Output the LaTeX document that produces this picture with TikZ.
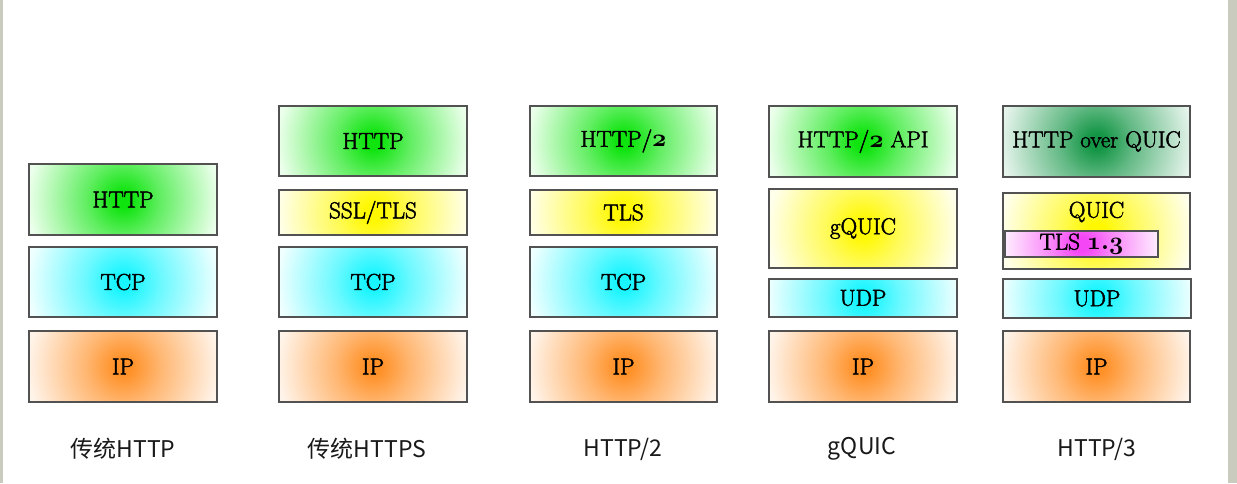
\documentclass[tikz,border=0pt]{standalone}
\usepackage{fontspec}
\newfontfamily\cjk{Noto Sans CJK SC}
\newfontfamily\boxfont{Latin Modern Roman}[FakeBold=2.2]
\newcommand\osn[1]{{\boldmath$\mathnormal{#1}$}}
\definecolor{sidegrey}{RGB}{201,203,190}
\definecolor{gIn}{RGB}{15,228,15}\definecolor{gOut}{RGB}{236,255,236}
\definecolor{dgIn}{RGB}{20,150,70}\definecolor{dgOut}{RGB}{230,244,236}
\definecolor{yIn}{RGB}{255,248,0}\definecolor{yOut}{RGB}{255,255,236}
\definecolor{cIn}{RGB}{25,245,255}\definecolor{cOut}{RGB}{240,255,255}
\definecolor{oIn}{RGB}{255,145,40}\definecolor{oOut}{RGB}{255,244,234}
\definecolor{mIn}{RGB}{245,70,245}\definecolor{mOut}{RGB}{255,242,255}
\colorlet{shIn}{white}\colorlet{shOut}{white}\colorlet{shMid}{white}
\pgfdeclareradialshading[shIn,shMid,shOut]{soft}{\pgfpointorigin}{%
  color(0bp)=(shIn); color(2bp)=(shIn); color(9bp)=(shMid);
  color(23bp)=(shOut); color(50bp)=(shOut)}
\tikzset{
  shr/.initial=104pt,
  layer/.style={draw=black!68, line width=1.3pt, rectangle, inner sep=0pt,
    font=\boxfont\fontsize{23}{25}\selectfont, text=black},
  shd/.style 2 args={path picture={%
    \shade[/utils/exec={\colorlet{shIn}{#1}\colorlet{shOut}{#2}\colorlet{shMid}{#1!62!#2}},
      shading=soft] (path picture bounding box.center)
      circle[radius=\pgfkeysvalueof{/tikz/shr}];}},
  green/.style={shd={gIn}{gOut}},
  dgreen/.style={shd={dgIn}{dgOut}},
  yellowl/.style={shd={yIn}{yOut}},
  cyanl/.style={shd={cIn}{cOut}},
  orangel/.style={shd={oIn}{oOut}},
  magental/.style={shd={mIn}{mOut}},
  caption/.style={font=\cjk\fontsize{23}{26}\selectfont, text=black!90}
}
\begin{document}
\begin{tikzpicture}[x=1pt,y=-1pt]
\useasboundingbox (0,0) rectangle (1237,483);
\fill[white] (0,0) rectangle (1237,483);
\fill[sidegrey] (0,0) rectangle (2.5,483);
\fill[sidegrey] (1228,0) rectangle (1237,483);
% column 1
\node[layer,green,minimum width=188pt,minimum height=71pt] (a1) at (123,199.5) {HTTP};
\node[layer,cyanl,minimum width=188pt,minimum height=70pt] (a2) at (123,282) {TCP};
\node[layer,orangel,minimum width=188pt,minimum height=71pt] (a3) at (123,366.5) {IP};
\node[caption] (ac) at (123,449) {传统HTTP};
% column 2
\node[layer,green,minimum width=188pt,minimum height=70pt] (b1) at (373,141) {HTTP};
\node[layer,yellowl,minimum width=188pt,minimum height=45pt] (b2) at (373,212.5) {SSL/TLS};
\node[layer,cyanl,minimum width=188pt,minimum height=70pt] (b3) at (373,282) {TCP};
\node[layer,orangel,minimum width=188pt,minimum height=71pt] (b4) at (373,366.5) {IP};
\node[caption] (bc) at (367,449) {传统HTTPS};
% column 3
\node[layer,green,minimum width=187pt,minimum height=70pt] (c1) at (623.5,141) {HTTP/\osn{2}};
\node[layer,yellowl,minimum width=187pt,minimum height=45pt] (c2) at (623.5,212.5) {TLS};
\node[layer,cyanl,minimum width=187pt,minimum height=70pt] (c3) at (623.5,282) {TCP};
\node[layer,orangel,minimum width=187pt,minimum height=71pt] (c4) at (623.5,366.5) {IP};
\node[caption] (cc) at (623,449) {HTTP/2};
% column 4
\node[layer,green,minimum width=188pt,minimum height=71pt] (d1) at (863,141.5) {HTTP/\osn{2} API};
\node[layer,yellowl,minimum width=188pt,minimum height=79pt] (d2) at (863,228.5) {gQUIC};
\node[layer,cyanl,minimum width=188pt,minimum height=38pt] (d3) at (863,298) {UDP};
\node[layer,orangel,minimum width=188pt,minimum height=71pt] (d4) at (863,366.5) {IP};
\node[caption] (dc) at (862,449) {gQUIC};
% column 5
\node[layer,dgreen,minimum width=187pt,minimum height=71pt] (e1) at (1096.5,141.5) {HTTP over QUIC};
\node[layer,yellowl,minimum width=187pt,minimum height=76pt] (e2) at (1096.5,231) {};
\node[font=\boxfont\fontsize{23}{25}\selectfont, text=black] (e2t) at (1096.5,212) {QUIC};
\node[layer,magental,shr=86pt,minimum width=153pt,minimum height=26pt] (e3) at (1081.5,244) {TLS \osn{1.3}};
\node[layer,cyanl,minimum width=188pt,minimum height=39pt] (e4) at (1097,298.5) {UDP};
\node[layer,orangel,minimum width=187pt,minimum height=71pt] (e5) at (1096.5,366.5) {IP};
\node[caption] (ec) at (1097,449) {HTTP/3};
\end{tikzpicture}
\end{document}
